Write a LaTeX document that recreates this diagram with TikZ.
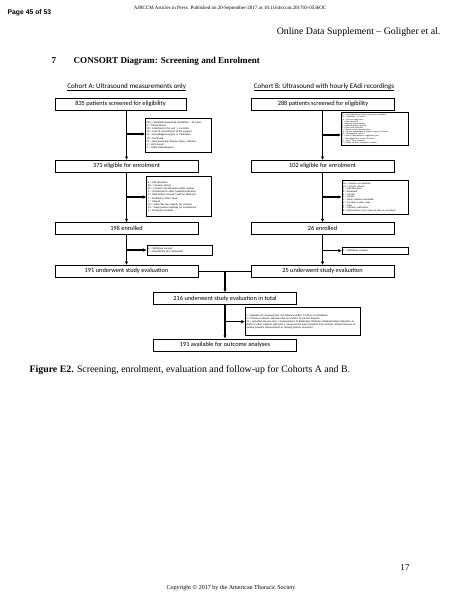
\documentclass[tikz,border=0pt]{standalone}
\usepackage{fontspec}
\setmainfont{Liberation Serif}
\newfontfamily\calfont{Carlito}
\newfontfamily\arialfont{Liberation Sans}
\usetikzlibrary{arrows.meta}

\begin{document}
\begin{tikzpicture}[x=1.322pt, y=-1.322pt,
    stage/.style={draw, line width=0.7pt, minimum height=16pt, inner sep=1pt, font=\calfont\fontsize{8.4}{10}\selectfont},
    wide/.style={minimum width=189pt},
    excl/.style={draw, line width=1pt, inner sep=1.5pt, align=left, font=\calfont\fontsize{3.5}{4.2}\selectfont},
    flow/.style={line width=1.4pt, -{Latex[length=4.5pt,width=4.5pt]}},
    link/.style={line width=1.4pt}]
    \fill[white] (0,0) rectangle (463,599);

    % Page header
    \node[anchor=west, font=\arialfont\bfseries\fontsize{9}{10}\selectfont] (pagehd) at (5,13) {Page 45 of 53};
    \node[font=\fontsize{6.6}{8}\selectfont] (pressln) at (230,8) {AJRCCM Articles in Press. Published on 20-September-2017 as 10.1164/rccm.201703-0536OC};
    \node[anchor=east, font=\fontsize{13}{15}\selectfont] (suppl) at (443,32) {Online Data Supplement – Goligher et al.};
    \node[anchor=west, font=\bfseries\fontsize{12}{14}\selectfont] (secnum) at (49,61) {7};
    \node[anchor=west, font=\bfseries\fontsize{12}{14}\selectfont] (sectitle) at (71,61) {CONSORT Diagram: Screening and Enrolment};

    % Cohort titles
    \node[font=\calfont\fontsize{9.3}{11}\selectfont] (cohA) at (126.7,87) {\underline{Cohort A: Ultrasound measurements only}};
    \node[font=\calfont\fontsize{9.3}{11}\selectfont] (cohB) at (324,87) {\underline{Cohort B: Ultrasound with hourly EAdi recordings}};

    % Cohort A
    \node[stage, minimum width=173pt] (scrA) at (120.5,104) {835 patients screened for eligibility};
    \node[stage, wide] (eligA) at (126.5,166.3) {371 eligible for enrolment};
    \node[stage, wide] (enrA) at (126.5,228.5) {198 enrolled};
    \node[stage, wide] (evalA) at (126.5,271.3) {191 underwent study evaluation};
    \node[excl, text width=84pt, minimum height=45pt] (exA1) at (178.5,135) {264 = Extubation/expected extubation < 24 hours\\6 = Tracheostomy\\28 = Admitted to this unit > 6 months\\20 = Lack of commitment to life support\\54 = Oesophageal surgery or intubation\\13 = Moribund\\71 = Neuromuscular disease (injury, disease)\\6 = Unit closed\\2 = Other/Miscellaneous};
    \node[excl, text width=83pt, minimum height=53pt] (exA2) at (179.3,196.8) {8 = MD discretion\\56 = Consent refusal\\25 = Consent not obtained within window\\4 = Transferred to other hospital/institution\\6 = Died before consent could be obtained\\7 = Enrolled in other study\\1 = Missed\\12 = Study/lab low capacity for consent\\52 = Study paused awaiting for amendment\\2 = Previously enrolled};
    \node[excl, text width=83pt, minimum height=13pt] (exA3) at (179.5,250) {6 = Withdrew consent\\1 = Died before first ultrasound};

    % Cohort B
    \node[stage, wide] (scrB) at (323,104.2) {288 patients screened for eligibility};
    \node[stage, wide] (eligB) at (322.5,166.3) {102 eligible for enrolment};
    \node[stage, wide] (enrB) at (322.5,228.5) {26 enrolled};
    \node[stage, wide] (evalB) at (322.5,271.3) {25 underwent study evaluation};
    \node[excl, text width=87pt, minimum height=42.7pt, inner sep=1pt, font=\calfont\fontsize{2.7}{2.8}\selectfont] (exB1) at (375,129) {57 = Not expected to remain on invasive ventilation\\25 = Ventilated > 36 hours\\14 = Cervical spine injury\\7 = Pacemaker/ICD\\9 = Neuromuscular disease\\8 = Neuromuscular blockade\\6 = Chest wall deformity\\4 = Phrenic nerve injury/paralysis\\11 = Recent oesophageal or gastric surgery or trauma\\10 = Oesophageal varices\\9 = Lack of commitment to aggressive care\\7 = Not expected to survive 48 hours\\11 = Age < 18 or pregnant\\8 = Unable to insert nasogastric catheter};
    \node[excl, text width=84pt, minimum height=44pt, font=\calfont\fontsize{3.2}{3.6}\selectfont] (exB2) at (375,197.3) {16 = Consent not obtained\\10 = Consent refusal\\6 = MD discretion\\8 = Extubated\\5 = Transfer\\4 = Missed\\3 = Study catheter unavailable\\6 = Enrolled in other study\\6 = Died\\4 = Catheter malfunction\\8 = EAdi catheter not in place at time of enrolment};
    \node[excl, text width=84pt, minimum height=9.3pt] (exB3) at (375,250.5) {1 = Withdrew consent};

    % Both cohorts
    \node[stage, wide] (total) at (225,298.5) {216 underwent study evaluation in total};
    \node[stage, wide] (avail) at (225,345) {191 available for outcome analyses};
    \node[excl, text width=150pt, minimum height=37pt] (exC) at (303,321.7) {1 = Baseline US measurement not obtained within 72 hours of intubation\\2 = Primary outcome unknown due to transfer to outside hospital\\22 = excluded because only 1 measurement of diaphragm thickness obtained before liberation or death (3 other subjects with only 1 measurement were excluded from primary analysis because of missing baseline measurement or missing primary outcome)};

    % Arrows
    \coordinate (brA1) at (126.5,134);
    \coordinate (brA2) at (126.5,197);
    \coordinate (brA3) at (126.5,250);
    \coordinate (brB1) at (322.5,135);
    \coordinate (brB2) at (322.5,197);
    \coordinate (brB3) at (322.5,250.7);
    \coordinate (brC) at (225,321.7);
    \draw[flow] (scrA.south -| eligA.north) -- (eligA.north);
    \draw[flow] (eligA) -- (enrA);
    \draw[flow] (enrA) -- (evalA);
    \draw[flow] (scrB.south -| eligB.north) -- (eligB.north);
    \draw[flow] (eligB) -- (enrB);
    \draw[flow] (enrB) -- (evalB);
    \draw[flow] (brA1) -- (brA1 -| exA1.west);
    \draw[flow] (brA2) -- (brA2 -| exA2.west);
    \draw[flow] (brA3) -- (brA3 -| exA3.west);
    \draw[flow] (brB1) -- (brB1 -| exB1.west);
    \draw[flow] (brB2) -- (brB2 -| exB2.west);
    \draw[flow] (brB3) -- (brB3 -| exB3.west);
    \draw[link] (evalA.east) -- (evalB.west);
    \draw[flow] (evalA.east -| total.north) -- (total.north);
    \draw[flow] (total) -- (avail);
    \draw[flow] (brC) -- (brC -| exC.west);

    % Caption and footer
    \node[anchor=west, font=\fontsize{13}{15}\selectfont] (caption) at (27,370) {\textbf{Figure E2.} Screening, enrolment, evaluation and follow-up for Cohorts A and B.};
    \node[font=\fontsize{12}{14}\selectfont] (pgnum) at (405,567) {17};
    \node[font=\fontsize{8}{10}\selectfont] (copyr) at (231,588) {Copyright © 2017 by the American Thoracic Society};
\end{tikzpicture}
\end{document}
